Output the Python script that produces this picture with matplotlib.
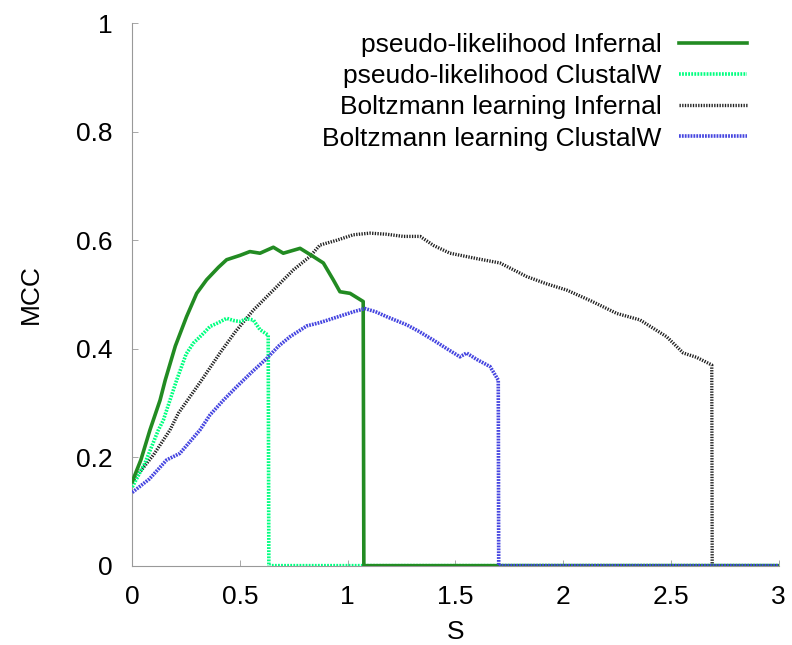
import matplotlib
matplotlib.use("Agg")
import matplotlib.pyplot as plt

plt.rcParams['font.family'] = ['Liberation Sans', 'DejaVu Sans']

# pseudo-likelihood Infernal
pl_inf_x = [0.0, 0.04, 0.082, 0.129, 0.153, 0.20, 0.252, 0.299, 0.345, 0.40, 0.438, 0.50, 0.546, 0.593,
            0.655, 0.701, 0.779, 0.840, 0.887, 0.933, 0.964, 1.011, 1.072, 1.075, 3.0]
pl_inf_y = [0.155, 0.195, 0.250, 0.305, 0.342, 0.405, 0.459, 0.502, 0.527, 0.550, 0.564, 0.572, 0.579, 0.576,
            0.587, 0.576, 0.585, 0.570, 0.558, 0.527, 0.505, 0.502, 0.487, 0.0, 0.0]

# pseudo-likelihood ClustalW
pl_clu_x = [0.0, 0.06, 0.121, 0.144, 0.206, 0.25, 0.283, 0.33, 0.361, 0.40, 0.438, 0.47, 0.50, 0.53,
            0.562, 0.593, 0.631, 0.634, 3.0]
pl_clu_y = [0.145, 0.190, 0.250, 0.268, 0.342, 0.390, 0.410, 0.428, 0.441, 0.448, 0.456, 0.452, 0.450, 0.455,
            0.453, 0.435, 0.425, 0.0, 0.0]

# Boltzmann learning Infernal
bl_inf_x = [0.0, 0.10, 0.175, 0.214, 0.322, 0.407, 0.48, 0.562, 0.655, 0.747, 0.825, 0.871, 0.95, 1.026,
            1.104, 1.18, 1.258, 1.336, 1.40, 1.475, 1.60, 1.707, 1.831, 1.92, 2.017, 2.13, 2.249, 2.357,
            2.481, 2.558, 2.62, 2.690, 2.692, 3.0]
bl_inf_y = [0.155, 0.205, 0.250, 0.281, 0.342, 0.392, 0.432, 0.471, 0.508, 0.545, 0.570, 0.591, 0.600, 0.610,
            0.613, 0.611, 0.607, 0.607, 0.590, 0.576, 0.566, 0.558, 0.533, 0.520, 0.508, 0.488, 0.465, 0.453,
            0.422, 0.392, 0.384, 0.370, 0.0, 0.0]

# Boltzmann learning ClustalW
bl_clu_x = [0.0, 0.08, 0.160, 0.221, 0.314, 0.361, 0.423, 0.485, 0.55, 0.624, 0.68, 0.732, 0.810, 0.87,
            0.933, 1.026, 1.080, 1.13, 1.181, 1.274, 1.33, 1.397, 1.46, 1.521, 1.552, 1.60, 1.661, 1.699,
            1.701, 3.0]
bl_clu_y = [0.135, 0.160, 0.195, 0.207, 0.250, 0.278, 0.305, 0.330, 0.355, 0.382, 0.405, 0.422, 0.442, 0.448,
            0.456, 0.468, 0.474, 0.468, 0.459, 0.444, 0.432, 0.416, 0.400, 0.385, 0.392, 0.380, 0.367, 0.342,
            0.0, 0.0]

x_ticks = [0, 0.5, 1, 1.5, 2, 2.5, 3]
x_tick_labels = ["0", "0.5", "1", "1.5", "2", "2.5", "3"]
y_ticks = [0, 0.2, 0.4, 0.6, 0.8, 1]
y_tick_labels = ["0", "0.2", "0.4", "0.6", "0.8", "1"]

fig = plt.figure(figsize=(7.92, 6.45), dpi=100)
ax = fig.add_axes([0.167, 0.123, 0.816, 0.841])

ax.plot(pl_inf_x, pl_inf_y, color='#228B22', lw=2.6, label='pseudo-likelihood Infernal', zorder=4)
ax.plot(pl_clu_x, pl_clu_y, color='#00FF80', lw=2.6, ls=(0, (0.5, 0.35)), label='pseudo-likelihood ClustalW', zorder=3)
ax.plot(bl_inf_x, bl_inf_y, color='#222222', lw=2.4, ls=(0, (0.4, 0.4)), label='Boltzmann learning Infernal', zorder=2)
ax.plot(bl_clu_x, bl_clu_y, color='#4545E0', lw=2.6, ls=(0, (0.5, 0.3)), label='Boltzmann learning ClustalW', zorder=5)

ax.set_xlim(0, 3)
ax.set_ylim(0, 1)
ax.set_xticks(x_ticks)
ax.set_xticklabels(x_tick_labels)
ax.set_yticks(y_ticks)
ax.set_yticklabels(y_tick_labels)

for s in ['top', 'right']:
    ax.spines[s].set_visible(False)
for s in ['left', 'bottom']:
    ax.spines[s].set_color('#999999')
    ax.spines[s].set_linewidth(0.8)

ax.tick_params(axis='both', direction='in', length=4, width=0.6, color='#999999',
               labelsize=19, pad=14)
ax.tick_params(axis='y', pad=14)

ax.set_xlabel('S', fontsize=19, labelpad=8)
ax.set_ylabel('MCC', fontsize=19, labelpad=24)

leg = ax.legend(loc='upper right', bbox_to_anchor=(0.971, 1.006), markerfirst=False, frameon=False,
                fontsize=19, handlelength=2.55, handletextpad=0.68, labelspacing=0.27, borderpad=0)

fig.savefig('out.png', dpi=100)
